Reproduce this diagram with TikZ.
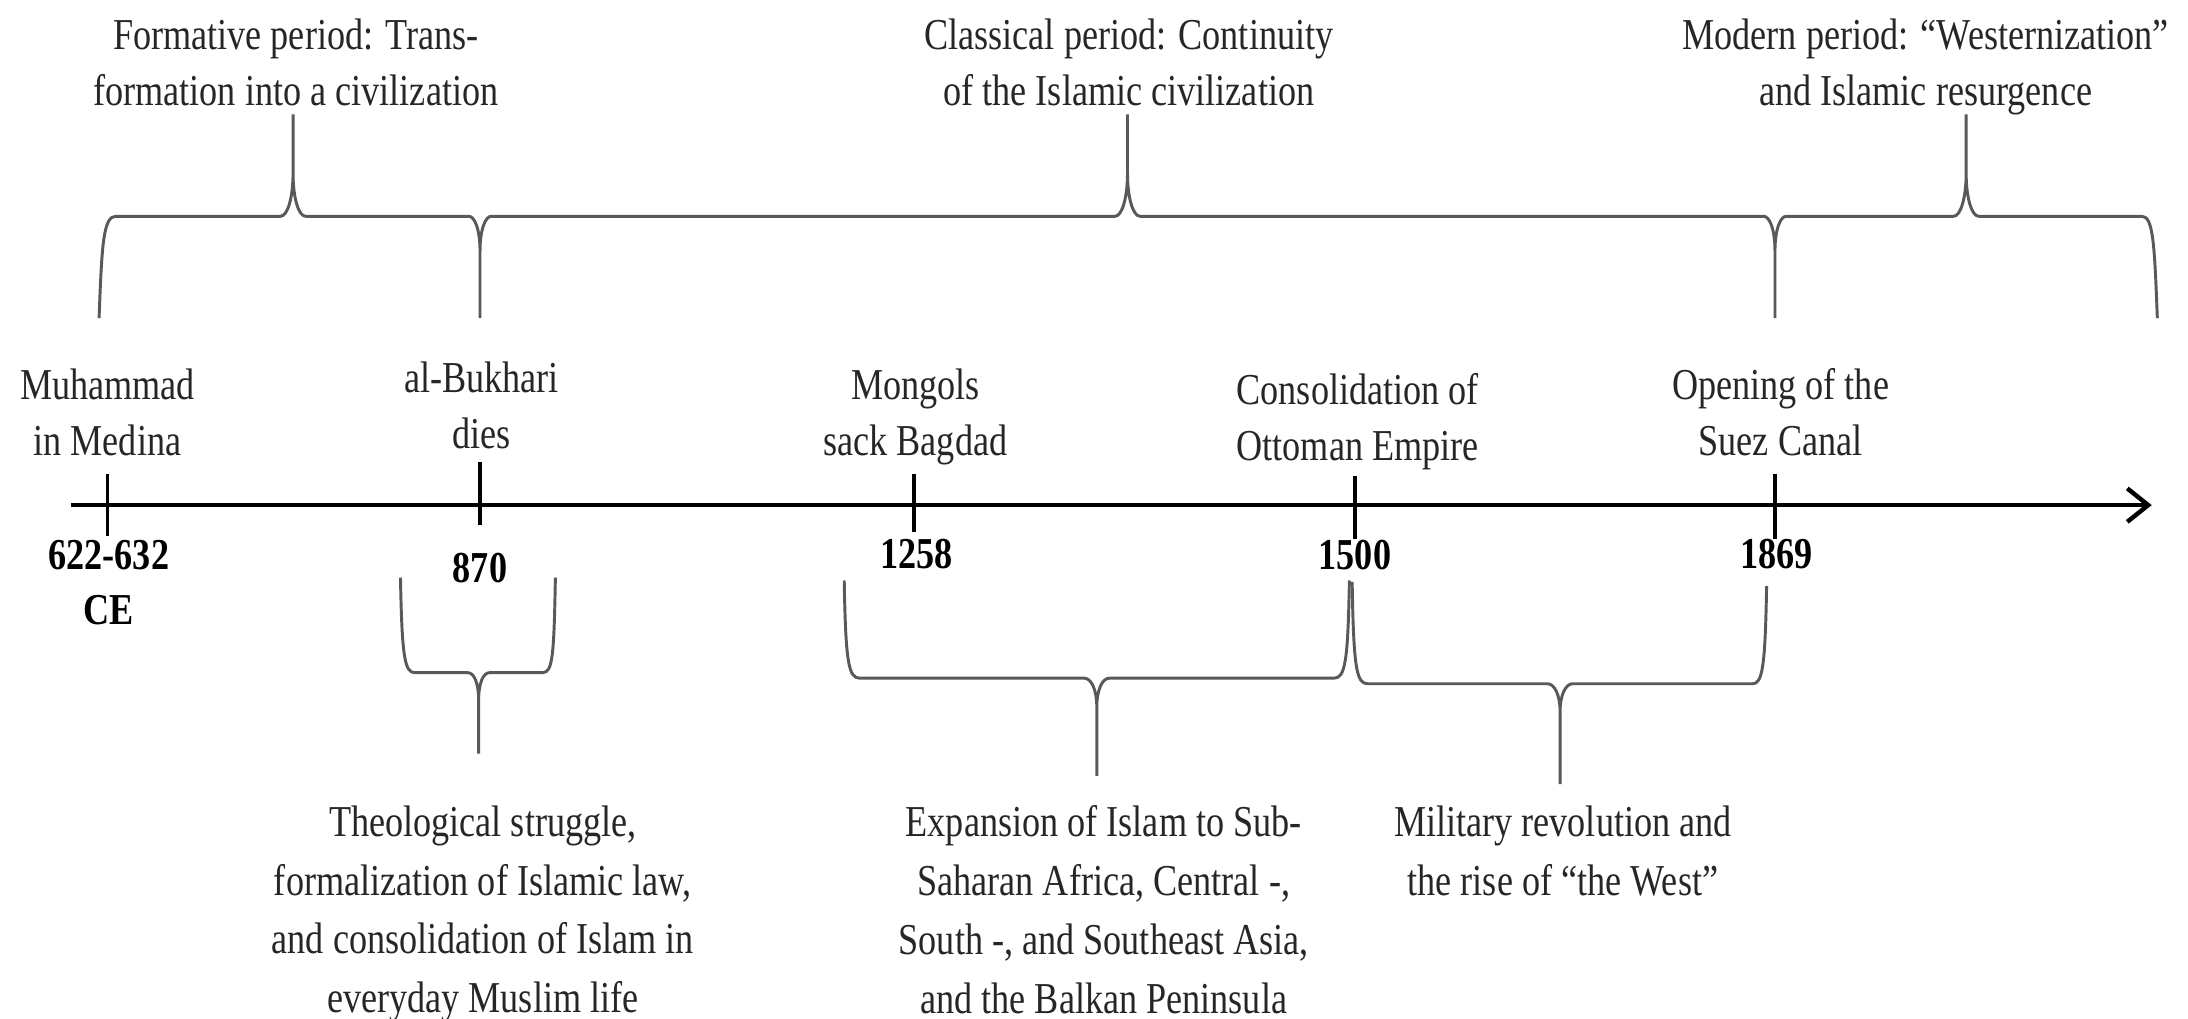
\documentclass[tikz,border=0pt]{standalone}
\usepackage{fontspec}
\setmainfont{Liberation Serif}[FakeStretch=0.82]
\usetikzlibrary{arrows.meta}
\begin{document}
\begin{tikzpicture}[x=0.02cm, y=-0.02cm,
  lbl/.style={anchor=north, inner sep=0pt, align=center, font=\fontsize{18}{22.8}\selectfont, text=black!85},
  lblb/.style={lbl, font=\fontsize{18}{24}\selectfont},
  datelbl/.style={lbl, font=\fontsize{18}{22.3}\selectfont\bfseries, text=black},
  bracepath/.style={draw=black!65, line width=1.2pt, line join=round},
  tickmark/.style={draw=black, line width=1.3pt},
  axisline/.style={draw=black, line width=1.8pt, -{Straight Barb[length=0.3cm, width=0.48cm]}}]
\useasboundingbox (0,0) rectangle (1568,730);

% axis
\coordinate (axL) at (51,362);
\coordinate (axR) at (1542,362);
\draw[axisline] (axL) -- (axR);

% ticks
\draw[tickmark] (77,340) -- (77,384);
\draw[tickmark] (344,331) -- (344,376);
\draw[tickmark] (655,340) -- (655,381);
\draw[tickmark] (971,341) -- (971,386);
\draw[tickmark] (1272,340) -- (1272,386);

% event labels
\node[lbl] (muh) at (77,264) {Muhammad\\in Medina};
\node[lbl] (buk) at (345,259) {al-Bukhari\\dies};
\node[lbl] (mon) at (656,264) {Mongols\\sack Bagdad};
\node[lbl] (ott) at (973,267) {Consolidation of\\Ottoman Empire};
\node[lbl] (suez) at (1276,264) {Opening of the\\Suez Canal};

% dates
\node[datelbl] (d1) at (78,387) {622-632\\CE};
\node[datelbl] (d2) at (344,396) {870};
\node[datelbl] (d3) at (657,386) {1258};
\node[datelbl] (d4) at (971,387) {1500};
\node[datelbl] (d5) at (1273,386) {1869};

% period labels
\node[lbl] (form) at (212,13) {Formative period: Trans-\\formation into a civilization};
\node[lbl] (class) at (809,13) {Classical period: Continuity\\of the Islamic civilization};
\node[lbl] (mod) at (1380,13) {Modern period: “Westernization”\\and Islamic resurgence};

% top brace (continuous)
\draw[bracepath]
  (71,228) .. controls (73,175) and (74,155) .. (83,155)
  -- (201,155) .. controls (206,155) and (210,142) .. (210,124) -- (210,82)
  (210,124) .. controls (210,142) and (214,155) .. (219,155)
  -- (336,155) .. controls (340,155) and (344,164) .. (344,180) -- (344,228)
  (344,180) .. controls (344,164) and (348,155) .. (352,155)
  -- (799,155) .. controls (804,155) and (808,142) .. (808,124) -- (808,82)
  (808,124) .. controls (808,142) and (812,155) .. (817,155)
  -- (1264,155) .. controls (1268,155) and (1272,164) .. (1272,180) -- (1272,228)
  (1272,180) .. controls (1272,164) and (1276,155) .. (1280,155)
  -- (1400,155) .. controls (1405,155) and (1409,142) .. (1409,124) -- (1409,82)
  (1409,124) .. controls (1409,142) and (1413,155) .. (1418,155)
  -- (1535,155) .. controls (1543,155) and (1544,175) .. (1546,228);

% bottom braces
\draw[bracepath]
  (287,414) .. controls (288,470) and (290,482) .. (297,482)
  -- (335,482) .. controls (340,482) and (343,490) .. (343,502) -- (343,540)
  (343,502) .. controls (343,490) and (346,482) .. (351,482)
  -- (389,482) .. controls (396,482) and (397,470) .. (398,414);
\draw[bracepath]
  (605,416) .. controls (606,474) and (608,486) .. (616,486)
  -- (777,486) .. controls (782,486) and (786,494) .. (786,507) -- (786,556)
  (786,507) .. controls (786,494) and (790,486) .. (795,486)
  -- (956,486) .. controls (964,486) and (966,474) .. (967,416);
\draw[bracepath]
  (969,417) .. controls (970,478) and (972,490) .. (980,490)
  -- (1109,490) .. controls (1114,490) and (1118,498) .. (1118,510) -- (1118,562)
  (1118,510) .. controls (1118,498) and (1122,490) .. (1127,490)
  -- (1256,490) .. controls (1263,490) and (1265,478) .. (1266,420);

% bottom labels
\node[lblb] (theo) at (346,577) {Theological struggle,\\formalization of Islamic law,\\and consolidation of Islam in\\everyday Muslim life};
\node[lblb] (exp) at (791,577) {Expansion of Islam to Sub-\\Saharan Africa, Central -,\\South -, and Southeast Asia,\\and the Balkan Peninsula};
\node[lblb] (mil) at (1120,577) {Military revolution and\\the rise of “the West”};
\end{tikzpicture}
\end{document}
